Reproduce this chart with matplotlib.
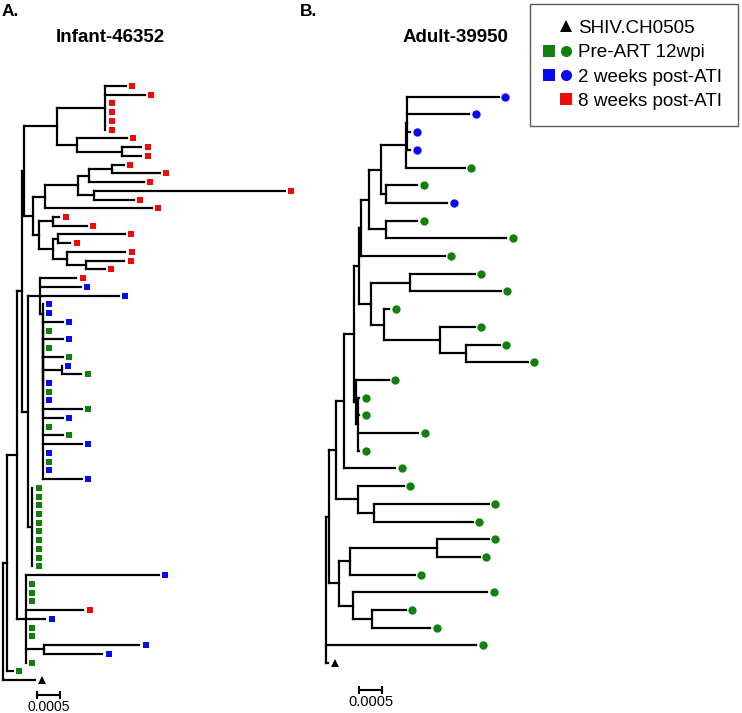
import matplotlib
matplotlib.use("Agg")
import matplotlib.pyplot as plt
from matplotlib.collections import LineCollection
from matplotlib.lines import Line2D
from matplotlib.legend_handler import HandlerTuple

plt.rcParams["font.family"] = ["Liberation Sans", "DejaVu Sans"]

# --- data -------------------------------------------------------------
# trees in newick, tip names are the sample group, lengths in subst./site
INFANT_TREE = """
(
 (
  (
   (
    (
     (
      (w8:0.00044,w8:0.00085,w8:0,w8:0,w8:0,w8:0):0.00105,
      (w8:0.00108,(w8:0.00042,w8:0.00042):0.00098):0.00043
     ):0.00072,
     (
      (
       (
        ((w8:0.00025,w8:0.00103):0.0005,w8:0.00118):0.00024,
        (w8:0.00414,w8:0.00086):0.00035
       ):0.00072,
       w8:0.00232
      ):0.00026,
      (
       (w8:0.00014,w8:0.00073):0.0003,
       ((w8:0.00145,w8:0.00027):0.00011,
        (w8:0.00127,(w8:0.00084,w8:0.00042):0.00041):0.0003):0.0003
      ):0.00013
     ):0.0002
    ):0.00005,
    (
     (
      w8:0.00079,w2:0.00088,w2:0.00171,
      (w2:0,(w2:0,(w2:0.00043,(pre:0,(w2:0.00043,(pre:0,
       (pre:0.00043,(w2:0,pre:0.00042):0.00041,w2:0,pre:0,w2:0,pre:0.00084,
        w2:0.00043,pre:0,pre:0.00043,w2:0.00084,w2:0,pre:0,w2:0,w2:0.00084):0
      ):0):0):0):0):0):0.00006
     ):0.00026,
     (pre:0,pre:0,pre:0,pre:0,pre:0,pre:0,pre:0,pre:0,pre:0,pre:0):0.00009
    ):0.00014
   ):0.00011,
   (w2:0.00289,pre:0,pre:0,pre:0,w8:0.00125,w2:0.00042,pre:0,pre:0,
    (w2:0.00208,w2:0.00127):0.00039,pre:0):0.0002
  ):0.00021,
  pre:0.00013
 ):0.00008,
 shiv:0.00069
);
"""

ADULT_TREE = """
(
 (
  (
   (
    (
     (
      (
       (
        (
         ((w2:0.002,w2:0.00135,w2:0.00007,w2:0.00007):0.00003,pre:0.00129):0.00054,
         (pre:0.00068,w2:0.00134):0.00011
        ):0.00026,
        (pre:0.00068,pre:0.00262):0.00037
       ):0.00017,
       pre:0.00182
      ):0.00004,
      (
       (pre:0.0014,pre:0.00197):0.00085,
       (pre:0.00012,(pre:0.00075,(pre:0.00073,pre:0.00134):0.00057):0.00122):0.00028
      ):0.00026
     ):0.00011,
     (pre:0.00071,(pre:0.00003,pre:0.00003,pre:0.00132,pre:0.00003):0.00004):0.00004
    ):0.00022,
    pre:0.00112
   ):0.00017,
   (pre:0.00099,(pre:0.00249,pre:0.00214):0.00035):0.00048
  ):0.00015,
  (
   ((pre:0.00112,pre:0.00092):0.00189,pre:0.0014):0.00024,
   (pre:0.00292,(pre:0.00073,pre:0.00127):0.00041):0.0003
  ):0.00022
 ):0.00007,
 pre:0.00327,
 shiv:0.00005
);
"""

groups = ["shiv", "pre", "w2", "w8"]
group_labels = ["SHIV.CH0505", "Pre-ART 12wpi", "2 weeks post-ATI", "8 weeks post-ATI"]
group_colors = {"shiv": "black", "pre": "#12800f", "w2": "#0a0af2", "w8": "#f20a0a"}
panel_titles = ["Infant-46352", "Adult-39950"]
panel_letters = ["A.", "B."]
scale_len = 0.0005

# --- layout -----------------------------------------------------------
W, H = 742, 713
PX_PER_UNIT = 23 / scale_len
GAP = 6.5 / PX_PER_UNIT  # marker sits a bit past the branch tip


def parse_newick(text):
    s = "".join(text.split()).rstrip(";")
    pos = 0

    def node():
        nonlocal pos
        kids = []
        if s[pos] == "(":
            pos += 1
            while True:
                kids.append(node())
                if s[pos] == ",":
                    pos += 1
                    continue
                pos += 1  # ')'
                break
        start = pos
        while pos < len(s) and s[pos] not in ",):":
            pos += 1
        name = s[start:pos]
        length = 0.0
        if pos < len(s) and s[pos] == ":":
            pos += 1
            start = pos
            while pos < len(s) and s[pos] not in ",)":
                pos += 1
            length = float(s[start:pos])
        return {"name": name, "len": length, "kids": kids}

    return node()


def layout(tree):
    tips, segs = [], []

    def walk(n, x0):
        x = x0 + n["len"]
        if not n["kids"]:
            n["x"], n["y"] = x, len(tips)
            tips.append((x, n["y"], n["name"]))
            return
        for c in n["kids"]:
            walk(c, x)
        ys = [c["y"] for c in n["kids"]]
        n["x"], n["y"] = x, (ys[0] + ys[-1]) / 2
        segs.append([(x, ys[0]), (x, ys[-1])])
        for c in n["kids"]:
            segs.append([(x, c["y"]), (c["x"], c["y"])])

    walk(tree, 0.0)
    return tips, segs


fig = plt.figure(figsize=(W / 100, H / 100), dpi=100)


def tree_axes(left_px, right_px, root_px, top_tip_px, step_px):
    ax = fig.add_axes([left_px / W, 0, (right_px - left_px) / W, 1])
    ax.set_xlim(-(root_px - left_px) / PX_PER_UNIT, (right_px - root_px) / PX_PER_UNIT)
    ax.set_ylim((H - top_tip_px) / step_px, -top_tip_px / step_px)
    ax.axis("off")
    return ax


def px_to_data(ax, px, py):
    return ax.transData.inverted().transform((px, H - py))


def draw_tree(ax, newick, tip_marker, ms):
    tips, segs = layout(parse_newick(newick))
    ax.add_collection(LineCollection(segs, colors="black", linewidths=1.6,
                                     capstyle="projecting"))
    for g in groups:
        xs = [x + GAP for x, y, n in tips if n == g]
        ys = [y for x, y, n in tips if n == g]
        if g == "shiv":
            ax.plot(xs, ys, "^", color="black", ms=5.5, mew=0)
        else:
            ax.plot(xs, ys, tip_marker, color=group_colors[g], ms=ms, mew=0)


def scale_bar(ax, px, py, fs):
    x0, y0 = px_to_data(ax, px, py)
    ax.plot([x0, x0 + scale_len], [y0, y0], color="black", lw=1.5,
            marker="|", ms=6, mew=1.5)
    _, ty = px_to_data(ax, px, py + 12)
    ax.text(x0 + scale_len / 2, ty, f"{scale_len:g}", ha="center", va="center",
            fontsize=fs)


ax_a = tree_axes(0, 310, 3.3, 86, 8.735)
draw_tree(ax_a, INFANT_TREE, "s", 5.0)
scale_bar(ax_a, 37.3, 695, 10)

ax_b = tree_axes(310, 742, 326, 96.7, 17.7)
draw_tree(ax_b, ADULT_TREE, "o", 6.0)
scale_bar(ax_b, 359.3, 690, 10.5)

fig.text(2 / W, 1 - 12 / H, panel_letters[0], fontsize=12.5, fontweight="bold", va="center")
fig.text(300 / W, 1 - 12 / H, panel_letters[1], fontsize=12.5, fontweight="bold", va="center")
fig.text(110 / W, 1 - 37 / H, panel_titles[0], fontsize=13.5, fontweight="bold",
         ha="center", va="center")
fig.text(455 / W, 1 - 37 / H, panel_titles[1], fontsize=13.5, fontweight="bold",
         ha="center", va="center")

# legend: square (infant) + circle (adult) per group
blank = Line2D([], [], ls="none")


def mk(marker, color):
    return Line2D([], [], marker=marker, color=color, ls="none", ms=8, mew=0)


handles = [
    (blank, mk("^", group_colors["shiv"])),
    (mk("s", group_colors["pre"]), mk("o", group_colors["pre"])),
    (mk("s", group_colors["w2"]), mk("o", group_colors["w2"])),
    (blank, mk("s", group_colors["w8"])),
]
leg = fig.legend(handles, group_labels, handler_map={tuple: HandlerTuple(ndivide=None, pad=0.66)},
                 loc="upper left", bbox_to_anchor=(530 / W, 1 - 4 / H), borderaxespad=0,
                 fontsize=13.6, frameon=True, fancybox=False, edgecolor="#333333",
                 borderpad=0.84, handlelength=1.23, handletextpad=0.49, labelspacing=0.37)
leg.get_frame().set_linewidth(1.0)

fig.savefig("out.png", dpi=100, facecolor="white")
